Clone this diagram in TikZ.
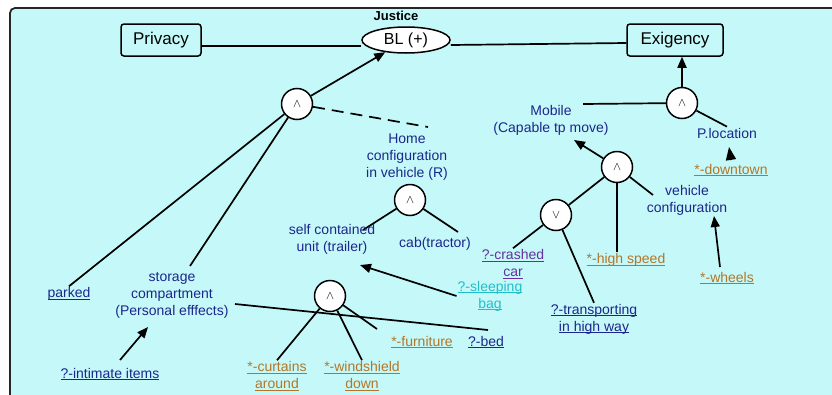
\documentclass[tikz,border=0pt]{standalone}
\usepackage{fontspec}
\setmainfont{Liberation Sans}
\usetikzlibrary{arrows.meta,shapes.geometric,backgrounds,calc}
\definecolor{bgcyan}{RGB}{197,249,249}
\definecolor{navy}{RGB}{28,38,140}
\definecolor{gold}{RGB}{178,118,40}
\definecolor{purp}{RGB}{102,48,160}
\definecolor{aqua}{RGB}{34,190,200}
\newcommand\ulx[1]{\underline{\smash{#1}}\vphantom{#1}}
\tikzset{
 conn/.style={line width=1.7pt, draw=black},
 arr/.style={conn, -{Triangle[length=11pt,width=9pt]}},
 gbox/.style={draw, line width=1.5pt, rounded corners=3pt, minimum height=32pt, font=\fontsize{17}{20}\selectfont, fill=bgcyan},
 opn/.style={circle, draw, fill=white, line width=1.5pt, minimum size=31pt, inner sep=0pt, font=\fontsize{12}{14}\selectfont},
 lbl/.style={align=center, inner sep=1pt, font=\fontsize{14}{17}\selectfont, text=navy},
 glbl/.style={lbl, text=gold},
}
\begin{document}
\begin{tikzpicture}[x=1pt,y=-1pt]
\useasboundingbox (0,0) rectangle (832,394);
% main nodes
\node[gbox, minimum width=80pt] (priv) at (161,40) {Privacy};
\node[ellipse, draw, line width=1.5pt, fill=white, minimum width=88pt, minimum height=26pt, inner sep=0pt, font=\fontsize{16}{18}\selectfont] (bl) at (406,40) {BL (+)};
\node[inner sep=0pt, font=\bfseries\fontsize{13}{15}\selectfont] (just) at (396,16) {Justice};
\node[gbox, minimum width=96pt] (exig) at (675,40) {Exigency};
% operator nodes
\node[opn] (and1) at (297,104) {$\wedge$};
\node[opn] (and2) at (410,200) {$\wedge$};
\node[opn] (and3) at (330,296) {$\wedge$};
\node[opn] (and4) at (682,103) {$\wedge$};
\node[opn] (and5) at (617,167) {$\wedge$};
\node[opn] (orn) at (556,215) {$\vee$};
% labels
\node[lbl] (parked) at (69,294) {\ulx{parked}};
\node[lbl] (storage) at (172,295) {storage\\compartment\\(Personal efffects)};
\node[lbl] (intim) at (110,374) {\ulx{?-intimate items}};
\node[lbl] (home) at (407,157) {Home\\configuration\\in vehicle (R)};
\node[lbl] (selfc) at (332,239) {self contained\\unit (trailer)};
\node[lbl] (cab) at (435,244) {cab(tractor)};
\node[lbl, text=aqua] (sleep) at (490,296) {\ulx{?-sleeping}\\\ulx{bag}};
\node[glbl] (furn) at (422,342) {\ulx{*-furniture}};
\node[lbl] (bed) at (486,342) {\ulx{?-bed}};
\node[glbl] (curt) at (277,376) {\ulx{*-curtains}\\\ulx{around}};
\node[glbl] (wind) at (362,376) {\ulx{*-windshield}\\\ulx{down}};
\node[lbl] (mobile) at (551,120) {Mobile\\(Capable tp move)};
\node[lbl] (ploc) at (727,133) {P.location};
\node[glbl] (down) at (731,170) {\ulx{*-downtown}};
\node[lbl] (vconf) at (687,200) {vehicle\\configuration};
\node[glbl] (hspeed) at (626,260) {\ulx{*-high speed}};
\node[lbl, text=purp] (crash) at (513,264) {\ulx{?-crashed}\\\ulx{car}};
\node[lbl] (trans) at (594,319) {\ulx{?-transporting}\\\ulx{in high way}};
\node[glbl] (wheels) at (727,278) {\ulx{*-wheels}};
% free ends
\coordinate (dashend) at (428,127);
\coordinate (stortop) at (190,266);
\coordinate (intstart) at (120,360);
\coordinate (inttip) at (148,327);
\coordinate (selfend) at (363,230);
\coordinate (cabend) at (458,232);
\coordinate (sleeptip) at (360,265);
\coordinate (storend) at (235,304);
\coordinate (bedend) at (488,330);
\coordinate (furnend) at (377,329);
\coordinate (mobend) at (583,104);
\coordinate (mobtip) at (574,140);
\coordinate (vconfend) at (653,195);
\coordinate (wheelstart) at (720,267);
\coordinate (wheeltip) at (714,216);
\coordinate (downstart) at (731,160);
\coordinate (downtip) at (729,147);
\begin{pgfonlayer}{background}
\fill[white] (0,0) rectangle (832,394);
\begin{scope}
\clip (0,0) rectangle (832,394);
\draw[line width=1.8pt, draw=black!85, fill=bgcyan, rounded corners=5pt] (10,8) rectangle (860,420);
\end{scope}
\draw[conn] ([yshift=-6pt]priv.east) -- ([yshift=-6pt]bl.west);
\draw[conn] ([yshift=-5pt]bl.east) -- ([yshift=-3pt]exig.west);
\draw[arr] (and1) -- (bl);
\draw[conn, dashed, dash pattern=on 12pt off 7pt] (and1) -- (dashend);
\draw[conn] (and1) -- (parked.north);
\draw[conn] (and1) -- (stortop);
\draw[arr] (intstart) -- (inttip);
\draw[conn] (and2) -- (selfend);
\draw[conn] (and2) -- (cabend);
\draw[arr] (sleep.west) -- (sleeptip);
\draw[conn] (storend) -- (bedend);
\draw[conn] (and3) -- (furnend);
\draw[conn] (and3) -- (curt.north);
\draw[conn] (and3) -- (wind.north);
\draw[arr] (and4.north) -- (exig.south -| and4.north);
\draw[conn] (and4) -- (mobend);
\draw[conn] (and4) -- (ploc.north);
\draw[arr, -{Triangle[length=13pt,width=10pt]}] (downstart) -- (downtip);
\draw[arr] (and5) -- (mobtip);
\draw[conn] (and5) -- (vconfend);
\draw[conn] (and5.south) -- (and5.south |- hspeed.north);
\draw[conn] (and5) -- (orn);
\draw[conn] (orn) -- (crash.north);
\draw[conn] (orn) -- (trans.north);
\draw[arr] (wheelstart) -- (wheeltip);
\end{pgfonlayer}
\end{tikzpicture}
\end{document}
